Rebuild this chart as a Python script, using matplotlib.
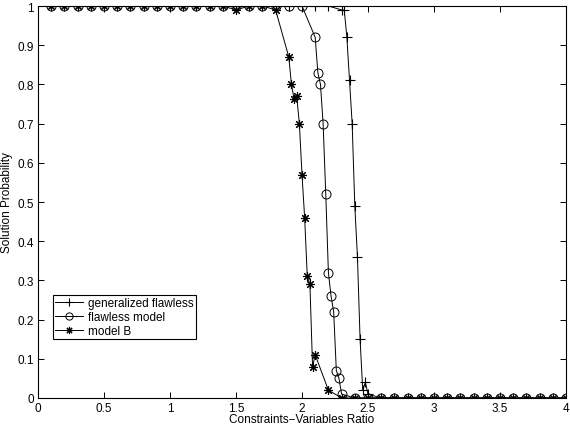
#!/usr/bin/env python3
"""Solution probability vs constraints/variables ratio for three models."""

import matplotlib

matplotlib.use("Agg")
import matplotlib.pyplot as plt

# generalized flawless model
gen_x = [0.1, 0.2, 0.3, 0.4, 0.5, 0.6, 0.7, 0.8, 0.9, 1.0, 1.1, 1.2, 1.3, 1.4, 1.5,
         1.6, 1.7, 1.8, 1.9, 2.0, 2.1, 2.2, 2.3, 2.32, 2.34, 2.36, 2.38, 2.4, 2.42,
         2.44, 2.46, 2.48, 2.5, 2.6, 2.7, 2.8, 2.9, 3.0, 3.1, 3.2, 3.3, 3.4, 3.5,
         3.6, 3.7, 3.8, 3.9, 4.0]
gen_y = [1, 1, 1, 1, 1, 1, 1, 1, 1, 1, 1, 1, 1, 1, 1,
         1, 1, 1, 1, 1, 1, 1, 0.99, 0.99, 0.92, 0.81, 0.70, 0.49, 0.36,
         0.15, 0.02, 0.04, 0.01, 0, 0, 0, 0, 0, 0, 0, 0, 0, 0,
         0, 0, 0, 0, 0]

# flawless model
flaw_x = [0.1, 0.2, 0.3, 0.4, 0.5, 0.6, 0.7, 0.8, 0.9, 1.0, 1.1, 1.2, 1.3, 1.4, 1.5,
          1.6, 1.7, 1.8, 1.9, 2.0, 2.1, 2.12, 2.14, 2.16, 2.18, 2.2, 2.22, 2.24,
          2.26, 2.28, 2.3, 2.4, 2.5, 2.6, 2.7, 2.8, 2.9, 3.0, 3.1, 3.2, 3.3, 3.4,
          3.5, 3.6, 3.7, 3.8, 3.9, 4.0]
flaw_y = [1, 1, 1, 1, 1, 1, 1, 1, 1, 1, 1, 1, 1, 1, 1,
          1, 1, 1, 1, 1, 0.92, 0.83, 0.80, 0.70, 0.52, 0.32, 0.26, 0.22,
          0.07, 0.05, 0.01, 0, 0, 0, 0, 0, 0, 0, 0, 0, 0, 0,
          0, 0, 0, 0, 0, 0]

# model B
modb_x = [0.1, 0.2, 0.3, 0.4, 0.5, 0.6, 0.7, 0.8, 0.9, 1.0, 1.1, 1.2, 1.3, 1.4, 1.5,
          1.6, 1.7, 1.8, 1.9, 1.92, 1.94, 1.96, 1.98, 2.0, 2.02, 2.04, 2.06, 2.08,
          2.1, 2.2, 2.3, 2.4, 2.5, 2.6, 2.7, 2.8, 2.9, 3.0, 3.1, 3.2, 3.3, 3.4,
          3.5, 3.6, 3.7, 3.8, 3.9, 4.0]
modb_y = [1, 1, 1, 1, 1, 1, 1, 1, 1, 1, 1, 1, 1, 1, 0.99,
          1, 1, 0.99, 0.87, 0.80, 0.763, 0.77, 0.70, 0.57, 0.46, 0.31, 0.29, 0.08,
          0.11, 0.02, 0, 0, 0, 0, 0, 0, 0, 0, 0, 0, 0, 0,
          0, 0, 0, 0, 0, 0]

x_ticks = [0, 0.5, 1, 1.5, 2, 2.5, 3, 3.5, 4]
y_ticks = [0, 0.1, 0.2, 0.3, 0.4, 0.5, 0.6, 0.7, 0.8, 0.9, 1]

plt.rcParams["font.family"] = ["Liberation Sans", "DejaVu Sans"]

fig = plt.figure(figsize=(5.7, 4.27), dpi=100)
ax = fig.add_axes([38 / 570, 1 - 399 / 427, 528 / 570, 392 / 427])

lw = 0.7
ax.plot(gen_x, gen_y, color="black", lw=lw, marker="+", ms=7, mew=0.8,
        label="generalized flawless")
ax.plot(flaw_x, flaw_y, color="black", lw=lw, marker="o", ms=6.5, mew=0.7,
        mfc="none", label="flawless model")
# MATLAB-style asterisk: 8 thin spokes
ax.plot(modb_x, modb_y, color="black", lw=lw, marker=(8, 2, 0), ms=6.5, mew=0.8,
        label="model B")

ax.set_xlim(0, 4)
ax.set_ylim(0, 1)
ax.set_xticks(x_ticks)
ax.set_xticklabels([f"{t:g}" for t in x_ticks])
ax.set_yticks(y_ticks)
ax.set_yticklabels([f"{t:g}" for t in y_ticks])
ax.tick_params(direction="in", top=True, right=True, labelsize=8.5,
               length=4, width=0.7, pad=3)
for spine in ax.spines.values():
    spine.set_linewidth(0.8)

ax.set_xlabel("Constraints\u2212Variables Ratio", fontsize=8.5, labelpad=-1)
ax.set_ylabel("Solution Probability", fontsize=8.5, labelpad=3)

leg = ax.legend(loc="lower left", bbox_to_anchor=(0.028, 0.15), borderaxespad=0,
                fontsize=8.5, fancybox=False, framealpha=1, edgecolor="black",
                handlelength=2.4, borderpad=0.2, labelspacing=0.15,
                handletextpad=0.35, markerscale=0.8, numpoints=1)
leg.get_frame().set_linewidth(0.8)

fig.savefig("out.png", dpi=100)
